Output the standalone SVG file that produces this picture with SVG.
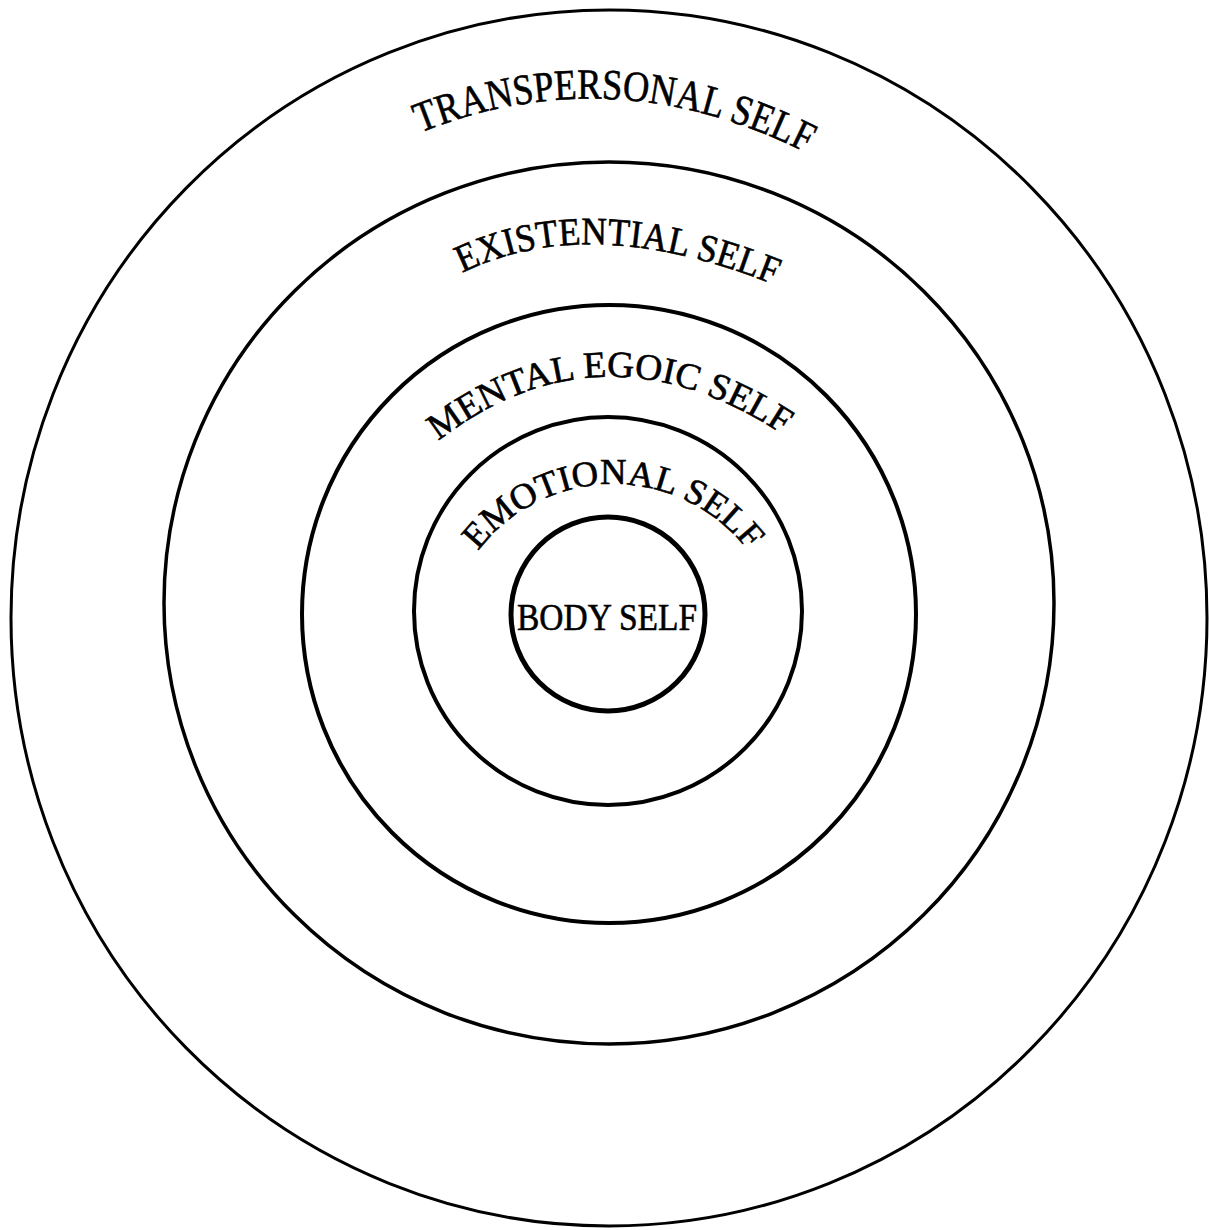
<svg xmlns="http://www.w3.org/2000/svg" width="1209" height="1230" viewBox="0 0 1209 1230">
<style>
.ring{fill:none;stroke:#000}
.lbl{font-family:"Liberation Serif","DejaVu Serif",serif;fill:#000;stroke:#000;stroke-width:0.6}
</style>
<defs>
<path id="pTrans" d="M 420 133 Q 620 52 824 162"/>
<path id="pExist" d="M 462 273 Q 591 210 777 286"/>
<path id="pMental" d="M 438 441 Q 606 312 794 442"/>
<path id="pEmo" d="M 478 551 A 170 170 0 0 1 756 562"/>
</defs>
<rect width="1209" height="1230" fill="#fff"/>
<g id="transpersonal">
<ellipse class="ring" cx="609" cy="618" rx="598" ry="608" stroke-width="3"/>
<text class="lbl" font-size="43"><textPath href="#pTrans" textLength="400" lengthAdjust="spacingAndGlyphs">TRANSPERSONAL SELF</textPath></text>
</g>
<g id="existential">
<ellipse class="ring" cx="609" cy="603" rx="445" ry="441" stroke-width="3.5"/>
<text class="lbl" font-size="39"><textPath href="#pExist" textLength="322" lengthAdjust="spacingAndGlyphs">EXISTENTIAL SELF</textPath></text>
</g>
<g id="mental">
<ellipse class="ring" cx="609" cy="614" rx="307" ry="309" stroke-width="4"/>
<text class="lbl" font-size="37"><textPath href="#pMental" textLength="372" lengthAdjust="spacingAndGlyphs">MENTAL EGOIC SELF</textPath></text>
</g>
<g id="emotional">
<circle class="ring" cx="608" cy="611" r="194" stroke-width="4"/>
<text class="lbl" font-size="36"><textPath href="#pEmo" textLength="312" lengthAdjust="spacingAndGlyphs">EMOTIONAL SELF</textPath></text>
</g>
<g id="body">
<circle class="ring" cx="608" cy="614" r="97" stroke-width="5"/>
<text class="lbl" x="517" y="630" font-size="38" textLength="180" lengthAdjust="spacingAndGlyphs">BODY SELF</text>
</g>
</svg>
